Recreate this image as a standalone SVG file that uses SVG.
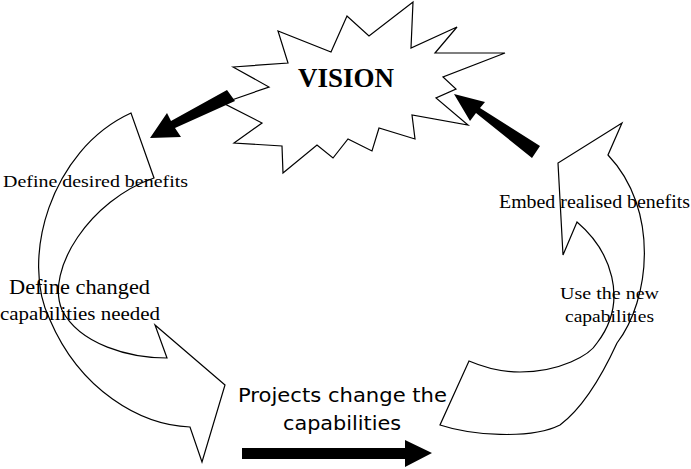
<svg xmlns="http://www.w3.org/2000/svg" width="691" height="469" viewBox="0 0 691 469">
<style>
.o{fill:#fff;stroke:#000;stroke-width:1.2;stroke-linejoin:miter}
.t{font-family:"Liberation Serif",serif;fill:#000}
.c{font-family:"DejaVu Sans","Liberation Sans",sans-serif;fill:#000}
</style>
<rect width="691" height="469" fill="#fff"/>
<g id="vision">
<polygon class="o" points="233,67 288,63 278,31 331,52 347,16 369,36 413,2 411,48 457,27 435,53 505,53 443,77 456,89 436,98 468,125 412,115 415,139 379,128 372,151 348,139 333,158 317,145 283,173 282,146 234,143 262,123 223,103 269,87"/>
<text class="t" x="346" y="87" font-size="27" font-weight="bold" text-anchor="middle">VISION</text>
</g>
<g id="left-cycle">
<path class="o" d="M131,113 C50,150 20,260 50,320 C80,390 140,425 190,427 L202,462 L225,385 L155,325 L167,358 C130,358 80,345 62,310 C45,270 90,200 154,178 Z"/>
<text class="t" x="3" y="187" font-size="17" textLength="185" lengthAdjust="spacingAndGlyphs">Define desired benefits</text>
<text class="t" x="9" y="294" font-size="20" textLength="141" lengthAdjust="spacingAndGlyphs">Define changed</text>
<text class="t" x="0" y="320" font-size="19" textLength="160" lengthAdjust="spacingAndGlyphs">capabilities needed</text>
</g>
<g id="right-cycle">
<path class="o" d="M622,123 L608,155 C660,210 650,300 617,343 C600,380 580,410 560,425 C530,440 470,435 440,425 L469,361 C490,370 505,372 520,372 C560,372 590,355 597,343 C630,300 610,250 577,222 L563,255 L558,163 Z"/>
<text class="t" x="499" y="208" font-size="18" textLength="191" lengthAdjust="spacingAndGlyphs">Embed realised benefits</text>
<text class="t" x="560" y="299" font-size="17" textLength="99" lengthAdjust="spacingAndGlyphs">Use the new</text>
<text class="t" x="565" y="322" font-size="17" textLength="89" lengthAdjust="spacingAndGlyphs">capabilities</text>
</g>
<g id="projects">
<text class="c" x="238" y="402" font-size="20" textLength="209" lengthAdjust="spacingAndGlyphs">Projects change the</text>
<text class="c" x="283" y="430" font-size="20" textLength="118" lengthAdjust="spacingAndGlyphs">capabilities</text>
</g>
<g id="connectors">
<polygon fill="#000" points="227,90 235,101 175,128 181,137 150,138 167,113 171,121"/>
<polygon fill="#000" points="540,146 532,158 476,113 470,121 454,94 485,102 480,108"/>
<polygon fill="#000" points="242,448 405,448 405,440 432,453 405,467 405,459 242,459"/>
</g>
</svg>
